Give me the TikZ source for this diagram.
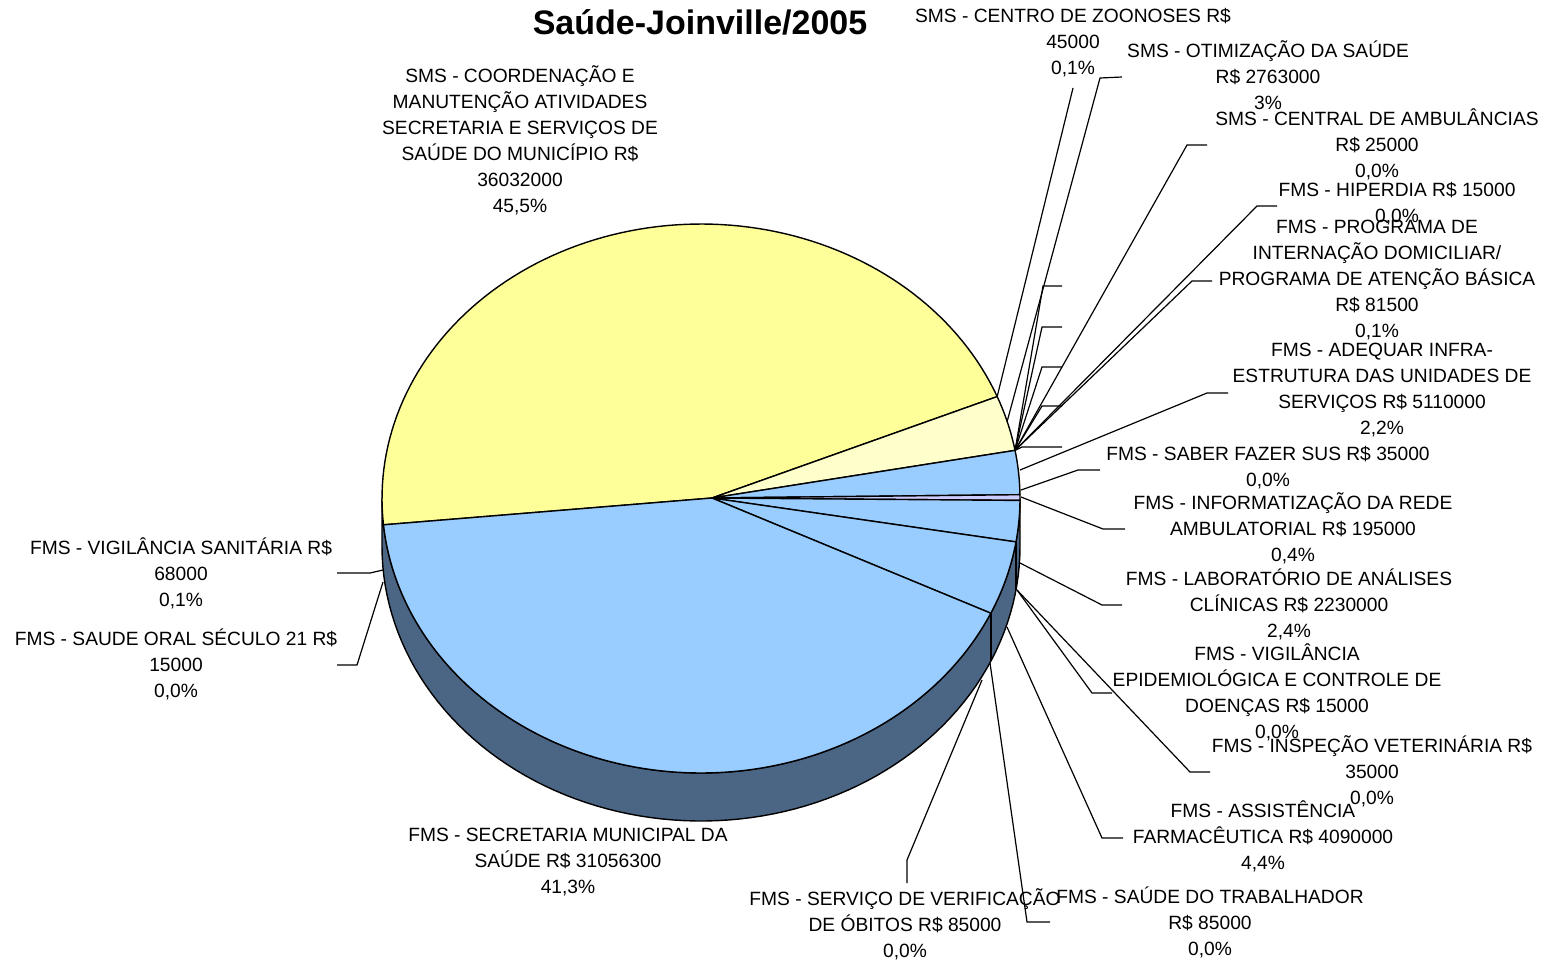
\documentclass[tikz,border=0pt]{standalone}
\usepackage{fontspec}
\setmainfont{Liberation Sans}
\definecolor{yel}{HTML}{FFFF99}
\definecolor{lyel}{HTML}{FFFFCC}
\definecolor{blu}{HTML}{99CCFF}
\definecolor{lav}{HTML}{CCCCFF}
\definecolor{sidecol}{HTML}{4B6584}
\begin{document}
\begin{tikzpicture}[x=0.5pt,y=-0.5pt,
  lbl/.style={align=center,inner sep=0pt,font=\fontsize{9.6}{13}\selectfont},
  leader/.style={draw=black,line width=0.6pt},
  slice/.style={draw=black,line width=0.7pt,line join=round}]
\useasboundingbox (0,0) rectangle (1551,959);
\def\cx{701}\def\cy{498.5}\def\rx{319}\def\ry{274.5}\def\dd{48}
% pie points
\coordinate (P) at (712,498);
\coordinate (A) at ({\cx+\rx*cos(174.5)},{\cy+\ry*sin(174.5)});
\coordinate (B) at ({\cx+\rx*cos(338.2)},{\cy+\ry*sin(338.2)});
\coordinate (C) at ({\cx+\rx*cos(349.9)},{\cy+\ry*sin(349.9)});
\coordinate (E) at ({\cx+\rx*cos(9.1)},{\cy+\ry*sin(9.1)});
\coordinate (F) at ({\cx+\rx*cos(24.7)},{\cy+\ry*sin(24.7)});
% side wall
\path[slice,fill=sidecol] plot[domain=0:180,samples=90] ({\cx+\rx*cos(\x)},{\cy+\ry*sin(\x)})
  -- plot[domain=180:0,samples=90] ({\cx+\rx*cos(\x)},{\cy+\dd+\ry*sin(\x)}) -- cycle;
\draw[slice] (E) -- ++(0,\dd);
\draw[slice] (F) -- ++(0,\dd);
% top face slices
\path[slice,fill=yel] (P) -- plot[domain=174.5:338.2,samples=100] ({\cx+\rx*cos(\x)},{\cy+\ry*sin(\x)}) -- cycle;
\path[slice,fill=lyel] (P) -- plot[domain=338.2:349.9,samples=10] ({\cx+\rx*cos(\x)},{\cy+\ry*sin(\x)}) -- cycle;
\path[slice,fill=blu] (P) -- plot[domain=349.9:359.2,samples=10] ({\cx+\rx*cos(\x)},{\cy+\ry*sin(\x)}) -- cycle;
\path[slice,fill=lav] (P) -- plot[domain=359.2:360.4,samples=3] ({\cx+\rx*cos(\x)},{\cy+\ry*sin(\x)}) -- cycle;
\path[slice,fill=blu] (P) -- plot[domain=0.4:9.1,samples=10] ({\cx+\rx*cos(\x)},{\cy+\ry*sin(\x)}) -- cycle;
\path[slice,fill=blu] (P) -- plot[domain=9.1:24.7,samples=15] ({\cx+\rx*cos(\x)},{\cy+\ry*sin(\x)}) -- cycle;
\path[slice,fill=blu] (P) -- plot[domain=24.7:174.5,samples=100] ({\cx+\rx*cos(\x)},{\cy+\ry*sin(\x)}) -- cycle;
% title
\node[font=\bfseries\fontsize{17}{20}\selectfont,inner sep=0pt] (title) at (700,22) {Saúde-Joinville/2005};
% labels
\node[lbl] (coord) at (520,140) {SMS - COORDENAÇÃO E\\MANUTENÇÃO ATIVIDADES\\SECRETARIA E SERVIÇOS DE\\SAÚDE DO MUNICÍPIO R\$\\36032000\\45,5\%};
\node[lbl] (zoo) at (1073,43) {SMS - CENTRO DE ZOONOSES R\$\\45000\\0,1\%};
\node[lbl] (oti) at (1268,75) {SMS - OTIMIZAÇÃO DA SAÚDE\\R\$ 2763000\\3\%};
\node[lbl] (amb) at (1377,144) {SMS - CENTRAL DE AMBULÂNCIAS\\R\$ 25000\\0,0\%};
\node[lbl] (hip) at (1397,204) {FMS - HIPERDIA R\$ 15000\\0,0\%};
\node[lbl] (pid) at (1377,280) {FMS - PROGRAMA DE\\INTERNAÇÃO DOMICILIAR/\\PROGRAMA DE ATENÇÃO BÁSICA\\R\$ 81500\\0,1\%};
\node[lbl] (adq) at (1382,390) {FMS - ADEQUAR INFRA-\\ESTRUTURA DAS UNIDADES DE\\SERVIÇOS R\$ 5110000\\2,2\%};
\node[lbl] (sab) at (1268,468) {FMS - SABER FAZER SUS R\$ 35000\\0,0\%};
\node[lbl] (inf) at (1293,528) {FMS - INFORMATIZAÇÃO DA REDE\\AMBULATORIAL R\$ 195000\\0,4\%};
\node[lbl] (lab) at (1289,604) {FMS - LABORATÓRIO DE ANÁLISES\\CLÍNICAS R\$ 2230000\\2,4\%};
\node[lbl] (vep) at (1277,692) {FMS - VIGILÂNCIA\\EPIDEMIOLÓGICA E CONTROLE DE\\DOENÇAS R\$ 15000\\0,0\%};
\node[lbl] (vet) at (1372,771) {FMS - INSPEÇÃO VETERINÁRIA R\$\\35000\\0,0\%};
\node[lbl] (far) at (1263,836) {FMS - ASSISTÊNCIA\\FARMACÊUTICA R\$ 4090000\\4,4\%};
\node[lbl] (trab) at (1210,922) {FMS - SAÚDE DO TRABALHADOR\\R\$ 85000\\0,0\%};
\node[lbl] (svo) at (905,924) {FMS - SERVIÇO DE VERIFICAÇÃO\\DE ÓBITOS R\$ 85000\\0,0\%};
\node[lbl] (sec) at (568,862) {FMS - SECRETARIA MUNICIPAL DA\\SAÚDE R\$ 31056300\\41,3\%};
\node[lbl] (vsa) at (181,573) {FMS - VIGILÂNCIA SANITÁRIA R\$\\68000\\0,1\%};
\node[lbl] (sor) at (176,664) {FMS - SAUDE ORAL SÉCULO 21 R\$\\15000\\0,0\%};
% leader end coordinates
\coordinate (zooT) at (1073,88);
\coordinate (otiT) at (1122,77); \coordinate (otiK) at (1100,78); \coordinate (otiE) at (1007,422);
\coordinate (ambT) at (1207,145); \coordinate (ambK) at (1187,145);
\coordinate (hipT) at (1277,206); \coordinate (hipK) at (1257,206);
\coordinate (pidT) at (1212,281); \coordinate (pidK) at (1192,281);
\coordinate (adqT) at (1228,393); \coordinate (adqK) at (1207,393); \coordinate (adqE) at (1020,470);
\coordinate (sabT) at (1100,470); \coordinate (sabK) at (1078,470); \coordinate (sabE) at (1021,490);
\coordinate (infT) at (1125,529); \coordinate (infK) at (1103,529); \coordinate (infE) at (1021,497);
\coordinate (labT) at (1122,605); \coordinate (labK) at (1102,605); \coordinate (labE) at (1020,563);
\coordinate (vepT) at (1112,693); \coordinate (vepK) at (1092,693); \coordinate (vepE) at (1017,590);
\coordinate (vetT) at (1210,772); \coordinate (vetK) at (1190,772);
\coordinate (farT) at (1123,838); \coordinate (farK) at (1102,838); \coordinate (farE) at (1007,627);
\coordinate (trabT) at (1050,922); \coordinate (trabK) at (1027,922); \coordinate (trabE) at (990,663);
\coordinate (svoT) at (907,883); \coordinate (svoK) at (907,860); \coordinate (svoE) at (982,680);
\coordinate (vsaT) at (337,573); \coordinate (vsaK) at (370,573); \coordinate (vsaE) at (383,570);
\coordinate (sorT) at (337,665); \coordinate (sorK) at (357,665); \coordinate (sorE) at (383,582);
\coordinate (t1a) at (1062,286); \coordinate (t1b) at (1043,286);
\coordinate (t2a) at (1062,327); \coordinate (t2b) at (1042,327);
\coordinate (t3a) at (1062,367); \coordinate (t3b) at (1042,367);
\coordinate (t4a) at (1062,406); \coordinate (t4b) at (1042,406);
\coordinate (t5a) at (1062,447); \coordinate (t5b) at (1022,447);
% leaders
\draw[leader] (zooT) -- (B);
\draw[leader] (otiT) -- (otiK) -- (otiE);
\draw[leader] (ambT) -- (ambK) -- (C);
\draw[leader] (hipT) -- (hipK) -- (C);
\draw[leader] (pidT) -- (pidK) -- (C);
\draw[leader] (t1a) -- (t1b) -- (C);
\draw[leader] (t2a) -- (t2b) -- (C);
\draw[leader] (t3a) -- (t3b) -- (C);
\draw[leader] (t4a) -- (t4b) -- (C);
\draw[leader] (t5a) -- (t5b) -- (C);
\draw[leader] (adqT) -- (adqK) -- (adqE);
\draw[leader] (sabT) -- (sabK) -- (sabE);
\draw[leader] (infT) -- (infK) -- (infE);
\draw[leader] (labT) -- (labK) -- (labE);
\draw[leader] (vepT) -- (vepK) -- (vepE);
\draw[leader] (vetT) -- (vetK) -- (vepE);
\draw[leader] (farT) -- (farK) -- (farE);
\draw[leader] (trabT) -- (trabK) -- (trabE);
\draw[leader] (svoT) -- (svoK) -- (svoE);
\draw[leader] (vsaT) -- (vsaK) -- (vsaE);
\draw[leader] (sorT) -- (sorK) -- (sorE);
\end{tikzpicture}
\end{document}
